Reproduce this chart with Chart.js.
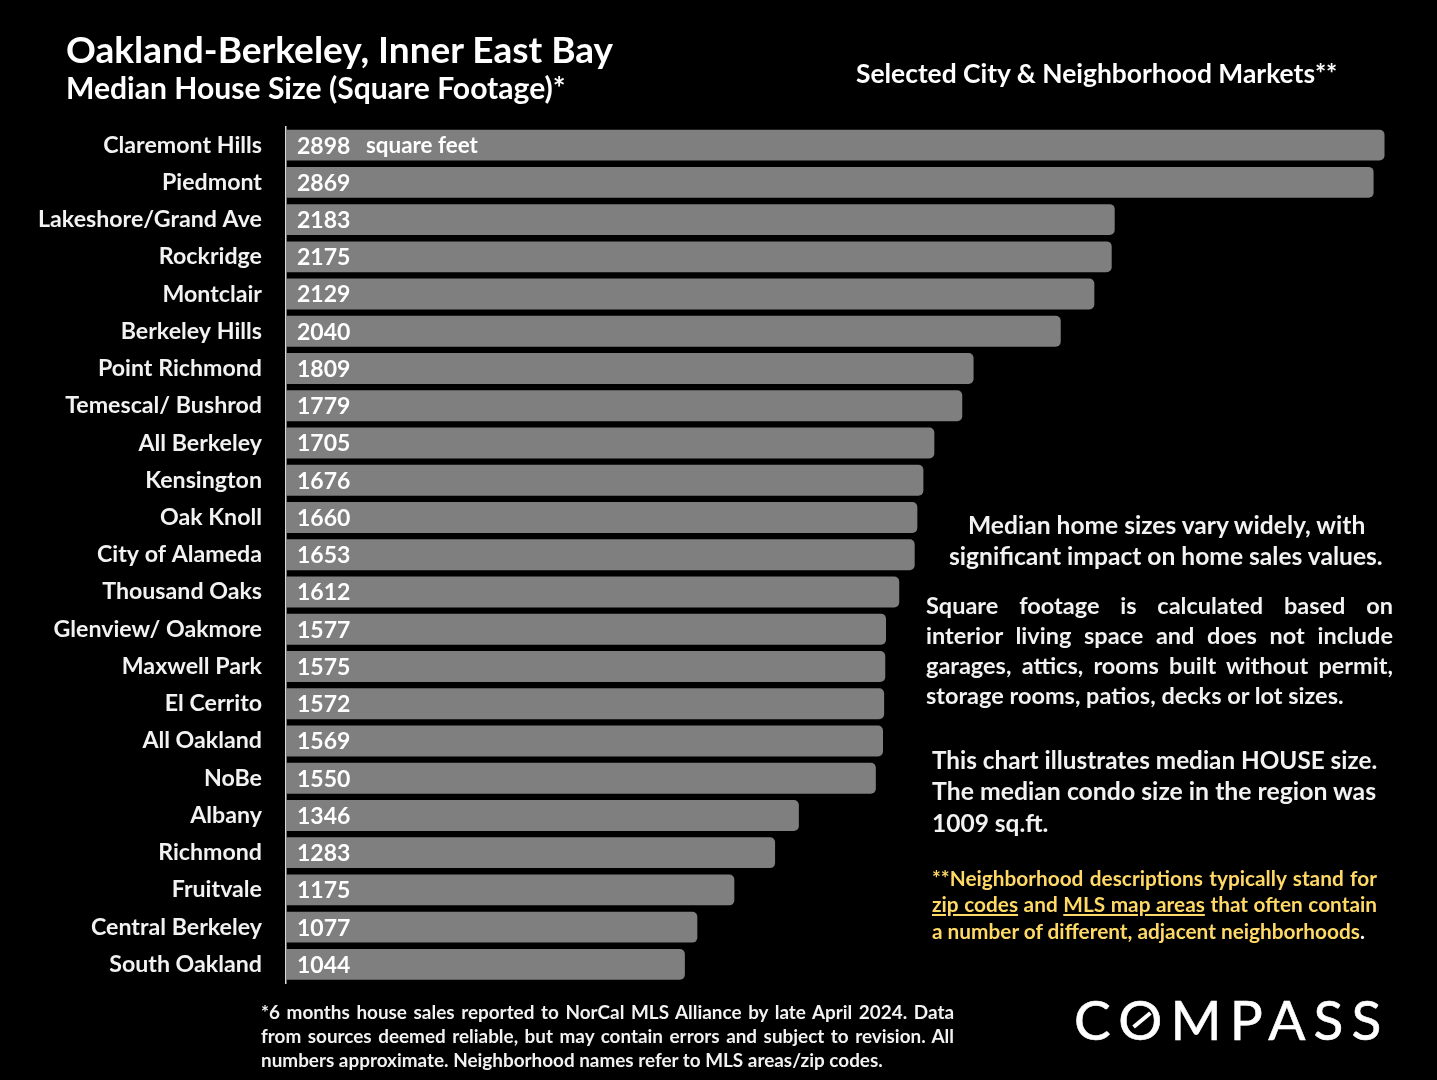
<!DOCTYPE html>
<html lang="en">
<head>
<meta charset="UTF-8">
<title>Median House Size</title>
<script src="https://cdn.jsdelivr.net/npm/chart.js"></script>
<style>
    html, body { margin: 0; background: #000; }
    #page { position: relative; width: 1437px; height: 1080px; overflow: hidden; background: #000; font-family: Lato, sans-serif; font-weight: 700; color: #f2f2f2; }
    canvas { position: absolute; left: 0; top: 0; }
    .t { position: absolute; white-space: nowrap; }
    .j { position: absolute; text-align: justify; text-align-last: justify; white-space: normal; }
    .gold { color: #ffd966; }
    #slash { position: absolute; left: 1131px; top: 1018px; width: 22px; height: 4px; background: #fff; transform: rotate(-40deg); }
</style>
</head>
<body>
<div id="page">
    <canvas id="chart" width="1437" height="1080"></canvas>

    <div class="t" style="left:66px;top:26px;font-size:37px;color:#fff">Oakland-Berkeley, Inner East Bay</div>
    <div class="t" style="left:66px;top:69px;font-size:30.1px;color:#fff">Median House Size (Square Footage)*</div>
    <div class="t" style="left:856px;top:57px;font-size:26.4px;color:#fff">Selected City &amp; Neighborhood Markets**</div>

    <div class="t" style="left:968px;top:510px;font-size:24.6px">Median home sizes vary widely, with</div>
    <div class="t" style="left:949px;top:541px;font-size:24.6px">significant impact on home sales values.</div>

    <div class="j" style="left:926px;top:591px;width:467px;font-size:23.5px">Square footage is calculated based on</div>
    <div class="j" style="left:926px;top:621px;width:467px;font-size:23.5px">interior living space and does not include</div>
    <div class="j" style="left:926px;top:651px;width:467px;font-size:23.5px">garages, attics, rooms built without permit,</div>
    <div class="t" style="left:926px;top:681px;font-size:23.5px">storage rooms, patios, decks or lot sizes.</div>

    <div class="t" style="left:932px;top:745px;font-size:24.3px">This chart illustrates median HOUSE size.</div>
    <div class="t" style="left:932px;top:776px;font-size:24.8px">The median condo size in the region was</div>
    <div class="t" style="left:932px;top:808px;font-size:24.5px">1009 sq.ft.</div>

    <div class="j gold" style="left:932px;top:865px;width:445px;font-size:20.8px">**Neighborhood descriptions typically stand for</div>
    <div class="j gold" style="left:932px;top:891px;width:445px;font-size:20.8px"><u>zip codes</u> and <u>MLS map areas</u> that often contain</div>
    <div class="t gold" style="left:932px;top:918px;font-size:20.8px">a number of different, adjacent neighborhoods<span style="color:#fff">.</span></div>

    <div class="j" style="left:261px;top:1000px;width:693px;font-size:18.9px">*6 months house sales reported to NorCal MLS Alliance by late April 2024. Data</div>
    <div class="j" style="left:261px;top:1024px;width:693px;font-size:18.9px">from sources deemed reliable, but may contain errors and subject to revision. All</div>
    <div class="t" style="left:261px;top:1048px;font-size:18.9px">numbers approximate. Neighborhood names refer to MLS areas/zip codes.</div>

    <div class="t" style="left:1074px;top:986px;font-size:55px;font-weight:400;letter-spacing:8.2px;-webkit-text-stroke:0.6px #fff;color:#fff">COMPASS</div>
    <div id="slash"></div>
</div>

<script>
var neighborhoods = ['Claremont Hills', 'Piedmont', 'Lakeshore/Grand Ave', 'Rockridge', 'Montclair', 'Berkeley Hills',
    'Point Richmond', 'Temescal/ Bushrod', 'All Berkeley', 'Kensington', 'Oak Knoll', 'City of Alameda',
    'Thousand Oaks', 'Glenview/ Oakmore', 'Maxwell Park', 'El Cerrito', 'All Oakland', 'NoBe', 'Albany',
    'Richmond', 'Fruitvale', 'Central Berkeley', 'South Oakland'];
var medianSqFt = [2898, 2869, 2183, 2175, 2129, 2040, 1809, 1779, 1705, 1676, 1660, 1653,
    1612, 1577, 1575, 1572, 1569, 1550, 1346, 1283, 1175, 1077, 1044];
var axisMin = -13;
var axisMax = 2939;

// value inside each bar, plus the unit on the first one
var barValues = {
    id: 'barValues',
    afterDatasetsDraw: function (chart) {
        var ctx = chart.ctx;
        ctx.save();
        ctx.fillStyle = '#ffffff';
        ctx.textBaseline = 'middle';
        ctx.textAlign = 'left';
        chart.getDatasetMeta(0).data.forEach(function (bar, i) {
            ctx.font = '700 23px Lato';
            ctx.fillText(medianSqFt[i], bar.base + 11, bar.y + 1);
            if (i === 0) {
                ctx.font = '700 22.4px Lato';
                ctx.fillText('square feet', bar.base + 80, bar.y + 1);
            }
        });
        ctx.restore();
    }
};

new Chart(document.getElementById('chart').getContext('2d'), {
    type: 'bar',
    data: {
        labels: neighborhoods,
        datasets: [{
            data: medianSqFt,
            base: axisMin,
            backgroundColor: '#7f7f7f',
            borderRadius: { topLeft: 0, bottomLeft: 0, topRight: 5, bottomRight: 5 },
            borderSkipped: false,
            barPercentage: 0.83,
            categoryPercentage: 1
        }]
    },
    options: {
        indexAxis: 'y',
        responsive: false,
        animation: false,
        layout: { padding: { top: 126.5, bottom: 97, right: 37, left: 0 } },
        plugins: { legend: { display: false }, title: { display: false }, tooltip: { enabled: false } },
        scales: {
            x: { display: false, min: axisMin, max: axisMax },
            y: {
                afterFit: function (scale) { scale.width = 286; },
                grid: { display: false, drawTicks: false },
                border: { color: '#d9d9d9', width: 1.5 },
                ticks: {
                    color: '#f2f2f2',
                    padding: 24,
                    autoSkip: false,
                    font: { family: 'Lato', weight: '700', size: 23.2 }
                }
            }
        }
    },
    plugins: [barValues]
});
</script>
</body>
</html>
